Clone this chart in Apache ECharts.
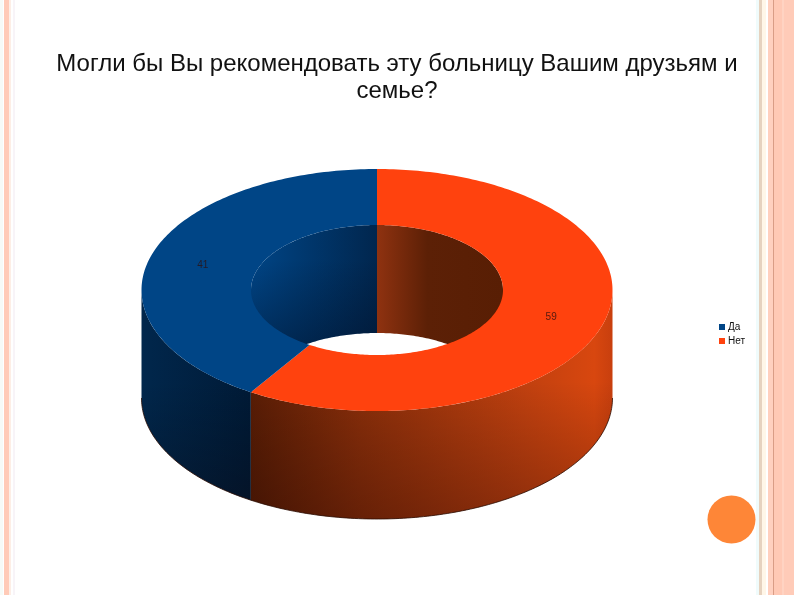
<!DOCTYPE html>
<html><head><meta charset="utf-8">
<style>html,body{margin:0;padding:0;background:#fff}#c{width:794px;height:595px}</style>
<script src="https://cdn.jsdelivr.net/npm/echarts@6/dist/echarts.min.js"></script>
</head><body><div id="c"></div>
<script>
const titleText = 'Могли бы Вы рекомендовать эту больницу Вашим друзьям и\nсемье?';
const categories = ['Нет', 'Да'];
const values = [59, 41];
const legendOrder = ['Да', 'Нет'];
const colors = ['#ff420e', '#004586'];

const geo = {cx: 377, cy: 290, rx: 235.5, ry: 121, irx: 126, iry: 65, depth: 108, labelK: 0.77};
const total = values.reduce((a, b) => a + b, 0);
const wallStops = [
  [[0, '#5a1d05'], [0.3, '#8a2e0a'], [0.75, '#c0400f'], [0.95, '#d8470f'], [1, '#c83f0e']],
  [[0, '#01274c'], [1, '#001a36']]
];
const innerStops = [
  [[0, '#8f3210'], [0.4, '#5c2006'], [1, '#581e04']],
  [[0, '#004586'], [0.35, '#003a72'], [1, '#01264e']]
];
const G = echarts.graphic;
function pt(deg, rx, ry, dy) {
  const a = deg * Math.PI / 180;
  return [geo.cx + rx * Math.sin(a), geo.cy - ry * Math.cos(a) + (dy || 0)];
}
function arc(a0, a1, rx, ry, dy) {
  const out = [], n = Math.max(2, Math.ceil(Math.abs(a1 - a0)));
  for (let i = 0; i <= n; i++) out.push(pt(a0 + (a1 - a0) * i / n, rx, ry, dy));
  return out;
}
function overlap(a0, a1, b0, b1) {
  const s = Math.max(a0, b0), e = Math.min(a1, b1);
  return e > s ? [s, e] : null;
}
function render(idx) {
  return function (params, api) {
    const v = api.value(0);
    const before = values.slice(0, idx).reduce((a, b) => a + b, 0);
    const a0 = before / total * 360, a1 = a0 + v / total * 360;
    const kids = [];
    // far side of the hole
    [[0, 90], [270, 360]].forEach(r => {
      const o = overlap(a0, a1, r[0], r[1]);
      if (!o) return;
      const pts = arc(o[0], o[1], geo.irx, geo.iry).concat(arc(o[1], o[0], geo.irx, geo.iry, geo.depth));
      const fill = idx === 0
        ? new G.LinearGradient(geo.cx, 0, geo.cx + geo.irx, 0, innerStops[0].map(s => ({offset: s[0], color: s[1]})), true)
        : new G.LinearGradient(geo.cx - geo.irx, 0, geo.cx, 0, innerStops[1].map(s => ({offset: s[0], color: s[1]})), true);
      kids.push({type: 'polygon', z2: 1, shape: {points: pts}, style: {fill: fill}});
      if (idx === 1) {
        kids.push({type: 'polygon', z2: 1, shape: {points: pts},
          style: {fill: new G.LinearGradient(0, geo.cy - 30, 0, geo.cy + geo.iry, [
            {offset: 0, color: 'rgba(0,10,30,0)'}, {offset: 1, color: 'rgba(0,10,30,0.45)'}], true)}});
      }
    });
    // near outer wall
    const w = overlap(a0, a1, 90, 270);
    if (w) {
      const top = arc(w[0], w[1], geo.rx, geo.ry);
      const bot = arc(w[1], w[0], geo.rx, geo.ry, geo.depth);
      const xs = top.concat(bot).map(p => p[0]);
      const x0 = Math.min.apply(null, xs), x1 = Math.max.apply(null, xs);
      kids.push({type: 'polygon', z2: 2, shape: {points: top.concat(bot)},
        style: {fill: new G.LinearGradient(x0, 0, x1, 0, wallStops[idx].map(s => ({offset: s[0], color: s[1]})), true)}});
      kids.push({type: 'polygon', z2: 3, shape: {points: top.concat(bot)},
        style: {fill: new G.LinearGradient(0, geo.cy, 0, geo.cy + geo.ry + geo.depth, [
          {offset: 0, color: 'rgba(0,0,0,0)'}, {offset: 0.4, color: 'rgba(0,0,0,0)'}, {offset: 1, color: 'rgba(20,0,0,0.3)'}], true)}});
      kids.push({type: 'polyline', z2: 4, shape: {points: bot},
        style: {fill: 'none', stroke: '#2a0d02', lineWidth: 1, opacity: 0.8}});
    }
    // top face
    const ring = arc(a0, a1, geo.rx, geo.ry).concat(arc(a1, a0, geo.irx, geo.iry));
    kids.push({type: 'polygon', z2: 5, shape: {points: ring}, style: {fill: colors[idx]}});
    // value label
    const lp = pt((a0 + a1) / 2, geo.rx * geo.labelK, geo.ry * geo.labelK);
    kids.push({type: 'text', z2: 6, x: lp[0], y: lp[1] + 1.5,
      style: {text: String(v), fill: '#2a1010', font: '10px "Liberation Sans"', align: 'center', verticalAlign: 'middle', opacity: 0.8}});
    return {type: 'group', children: kids};
  };
}
const stripes = [
  [0, 3, '#f6fbf8'], [4, 5, '#ffcbb8'], [9, 2, '#fdeee6'], [13, 2, '#f8f4f8'],
  [756, 3, '#f0fbfb'], [759, 3, '#e6d2bf'], [762, 4, '#fff6e8'], [768, 5, '#ffd0bf'],
  [773, 1, '#d99d86'], [774, 8, '#ffc9b5'], [782, 2, '#ffd3c2'], [784, 10, '#ffcbb8']
];
const chart = echarts.init(document.getElementById('c'), null, {renderer: 'canvas'});
chart.setOption({
  animation: false,
  backgroundColor: '#fff',
  title: {text: titleText, left: 392, top: 46, textAlign: 'center',
    textStyle: {fontFamily: 'Liberation Sans', fontSize: 24, fontWeight: 'normal', color: '#111', lineHeight: 27}},
  legend: {data: legendOrder, orient: 'vertical', left: 714, top: 317, itemWidth: 6, itemHeight: 6, itemGap: 4,
    icon: 'rect', textStyle: {fontFamily: 'Liberation Sans', fontSize: 10, color: '#111', padding: [0, 0, 0, -2]}, selectedMode: false},
  graphic: stripes.map(s => ({type: 'rect', silent: true, z: -1, shape: {x: s[0], y: 0, width: s[1], height: 595}, style: {fill: s[2]}}))
    .concat([{type: 'circle', silent: true, z: -1, shape: {cx: 731.5, cy: 519.5, r: 24}, style: {fill: '#fe8637'}}]),
  series: categories.map((name, i) => ({
    type: 'custom', name: name, coordinateSystem: 'none', silent: true,
    itemStyle: {color: colors[i]},
    renderItem: render(i), data: [[values[i]]]
  }))
});
</script></body></html>
